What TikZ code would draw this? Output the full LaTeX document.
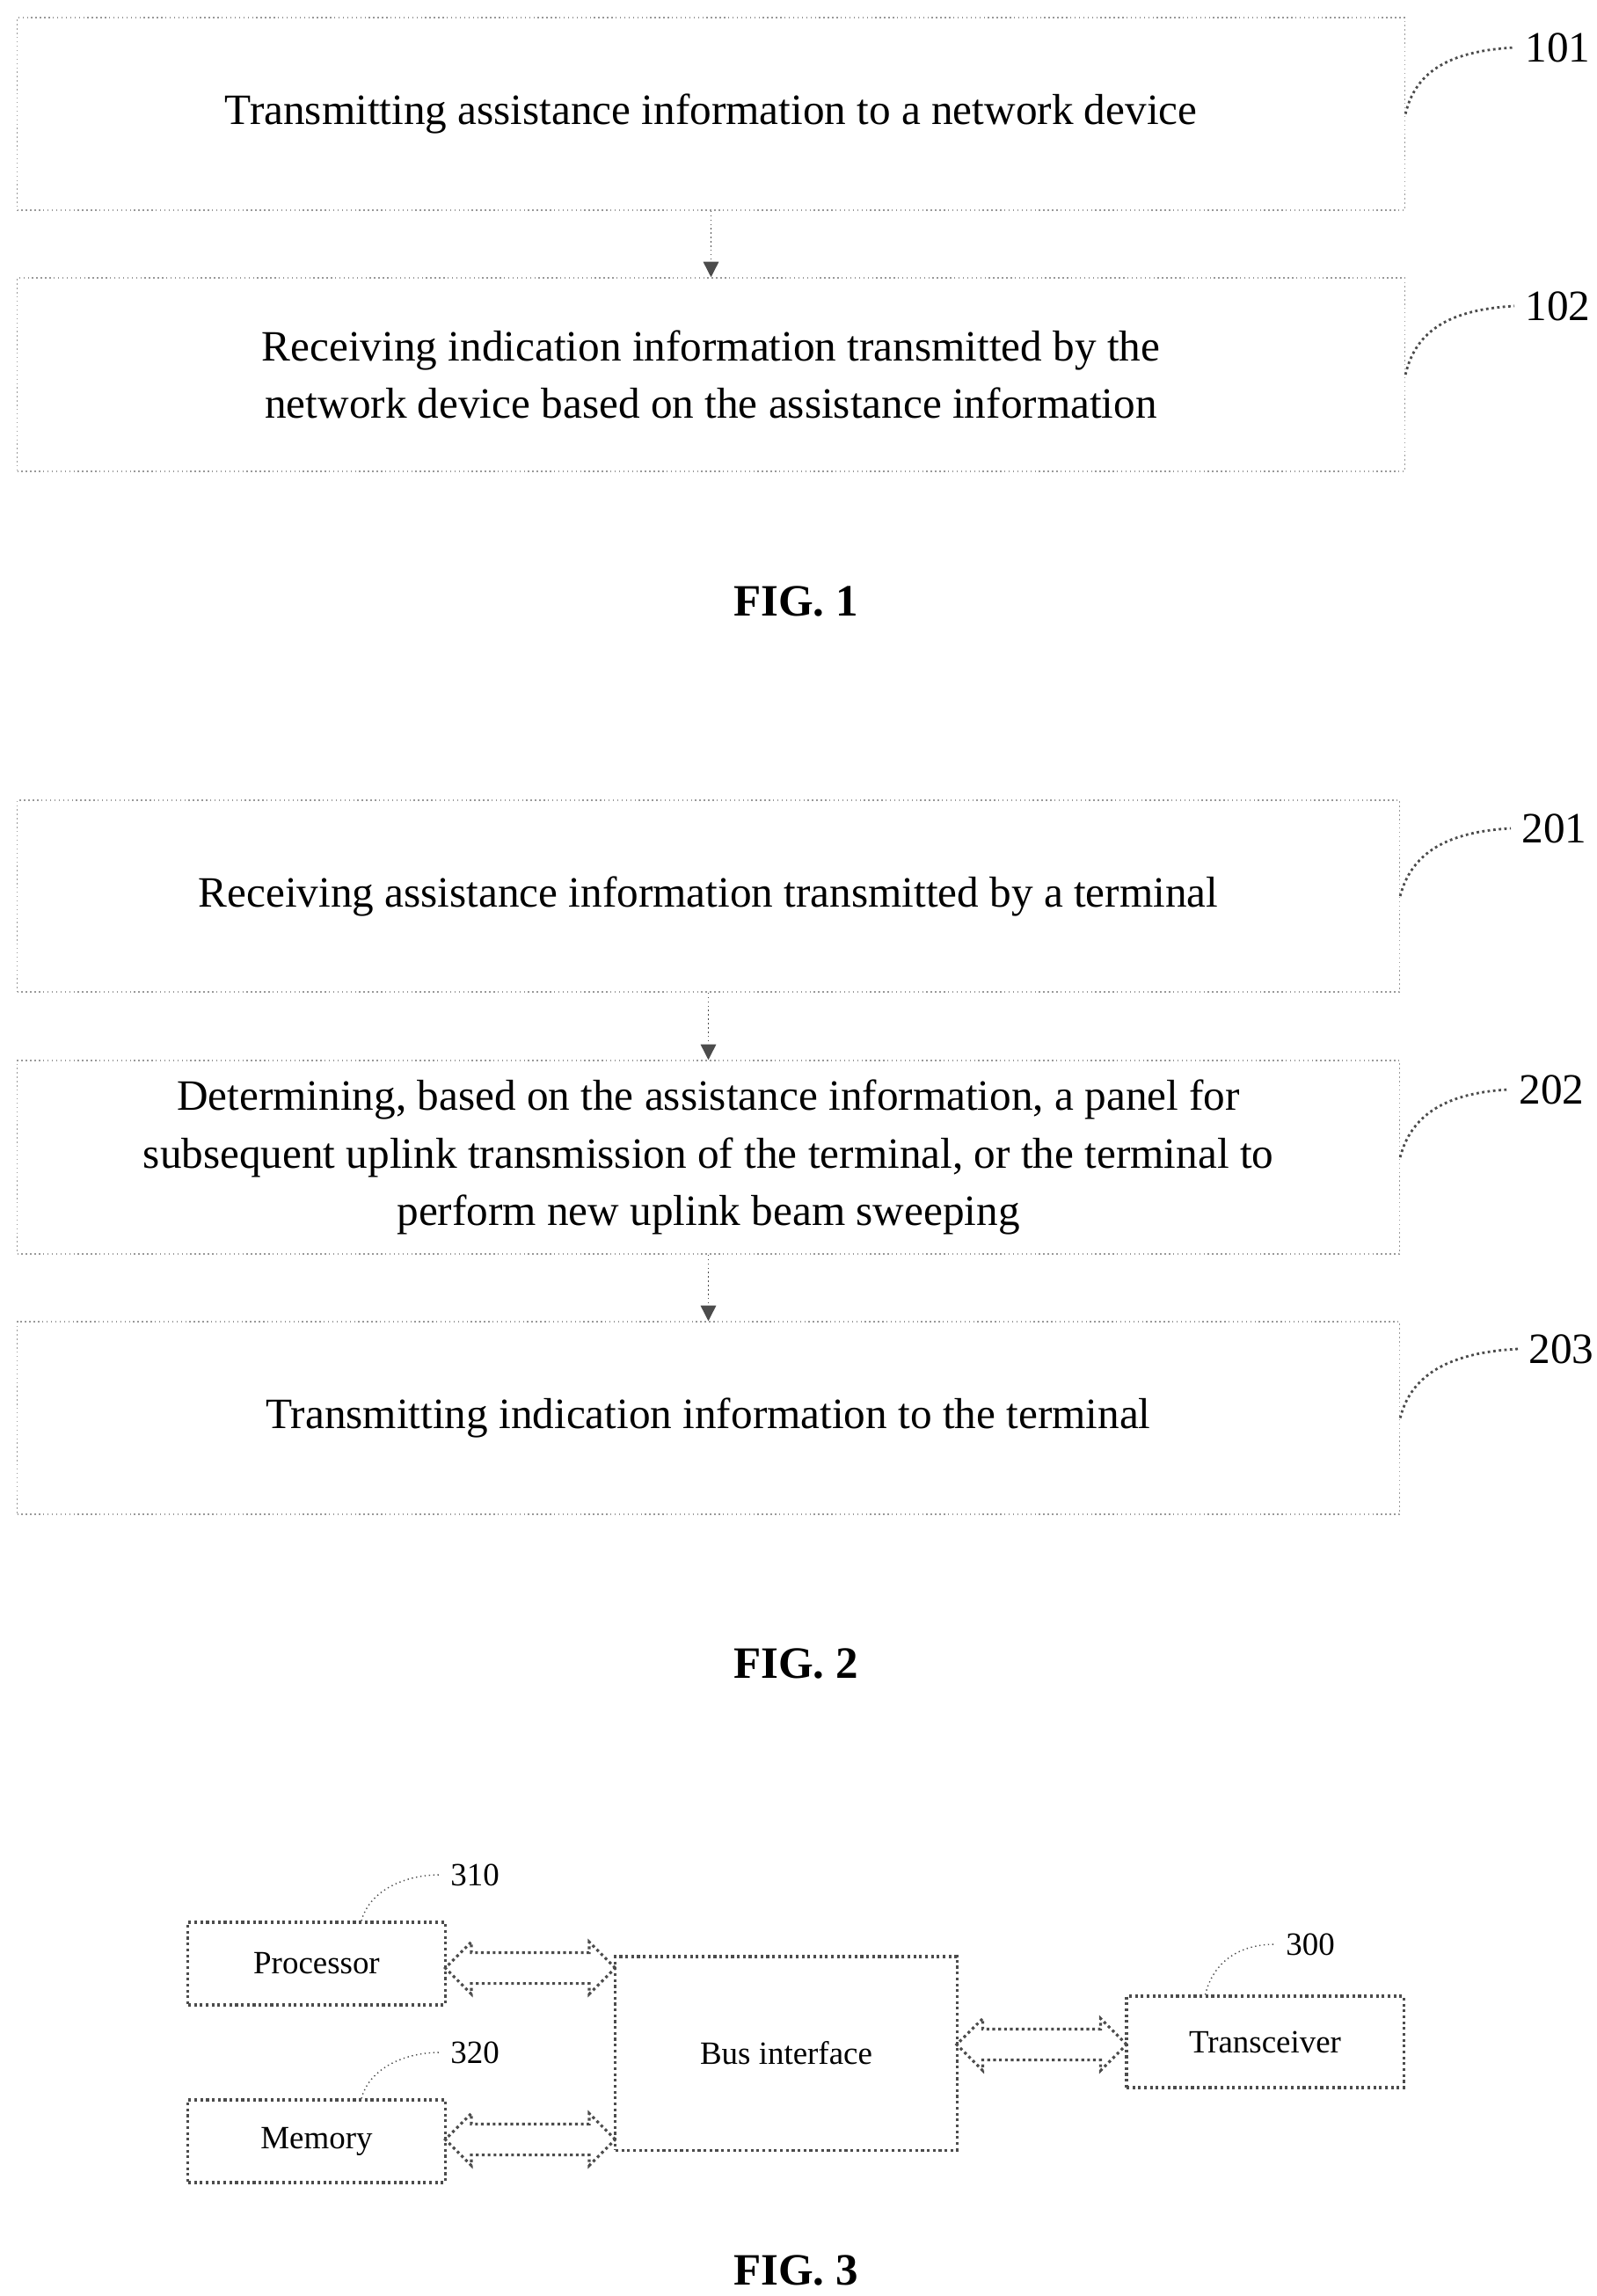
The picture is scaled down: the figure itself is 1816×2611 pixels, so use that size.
\documentclass[tikz,border=0pt]{standalone}
\usepackage{fontspec}
\setmainfont{Liberation Serif}
\usetikzlibrary{shapes.arrows, arrows.meta}

\begin{document}
\begin{tikzpicture}[x=0.01cm, y=-0.01cm,
    stepbox/.style={draw=gray!80, densely dotted, rectangle, inner sep=0pt, align=center,
        font=\fontsize{14}{18.5}\selectfont},
    part/.style={draw=black!70, densely dotted, line width=0.9pt, rectangle, inner sep=0pt,
        font=\fontsize{10.5}{12}\selectfont},
    flow/.style={-{Triangle[length=5pt,width=5pt]}, densely dotted, gray!60!black},
    lead/.style={densely dotted, gray!60!black, thick},
    tag/.style={font=\fontsize{14}{16}\selectfont, anchor=west},
    smalltag/.style={font=\fontsize{10.5}{12}\selectfont, anchor=west},
    caption/.style={font=\fontsize{14.5}{17}\selectfont\bfseries},
    bus/.style={double arrow, draw=black!70, densely dotted, line width=0.9pt,
        minimum height=1.93cm, inner xsep=0pt, inner ysep=0.16cm, text height=0pt, text depth=0pt,
        double arrow head extend=0.12cm}]
    \useasboundingbox (0,0) rectangle (1816,2611);

    % FIG. 1
    \node[stepbox, minimum width=15.77cm, minimum height=2.19cm] (s101) at (808.5,129.5)
        {Transmitting assistance information to a network device};
    \node[stepbox, minimum width=15.77cm, minimum height=2.20cm] (s102) at (808.5,426)
        {Receiving indication information transmitted by the\\network device based on the assistance information};
    \draw[flow] (s101) -- (s102);
    \node[tag] (t101) at (1722,54) {101};
    \node[tag] (t102) at (1722,348) {102};
    \draw[lead] (s101.east) .. controls (1610,80) and (1650,58) .. (t101.west);
    \draw[lead] (s102.east) .. controls (1610,375) and (1650,352) .. (t102.west);
    \node[caption] (f1) at (905,684) {FIG. 1};

    % FIG. 2
    \node[stepbox, minimum width=15.71cm, minimum height=2.18cm] (s201) at (805.5,1019)
        {Receiving assistance information transmitted by a terminal};
    \node[stepbox, minimum width=15.71cm, minimum height=2.20cm] (s202) at (805.5,1316)
        {Determining, based on the assistance information, a panel for\\subsequent uplink transmission of the terminal, or the terminal to\\perform new uplink beam sweeping};
    \node[stepbox, minimum width=15.71cm, minimum height=2.19cm] (s203) at (805.5,1612.5)
        {Transmitting indication information to the terminal};
    \draw[flow] (s201) -- (s202);
    \draw[flow] (s202) -- (s203);
    \node[tag] (t201) at (1718,942) {201};
    \node[tag] (t202) at (1715,1239) {202};
    \node[tag] (t203) at (1726,1534) {203};
    \draw[lead] (s201.east) .. controls (1605,970) and (1645,946) .. (t201.west);
    \draw[lead] (s202.east) .. controls (1605,1267) and (1645,1243) .. (t202.west);
    \draw[lead] (s203.east) .. controls (1605,1562) and (1650,1538) .. (t203.west);
    \node[caption] (f2) at (905,1892) {FIG. 2};

    % FIG. 3
    \node[part, minimum width=2.92cm, minimum height=0.94cm] (proc) at (360,2233) {Processor};
    \node[part, minimum width=2.92cm, minimum height=0.94cm] (mem) at (360,2435) {Memory};
    \node[part, minimum width=3.88cm, minimum height=2.20cm] (busif) at (894,2335) {Bus interface};
    \node[part, minimum width=3.15cm, minimum height=1.04cm] (trx) at (1438.5,2322) {Transceiver};
    \node[bus] (a1) at (603,2238) {};
    \node[bus] (a2) at (603,2433) {};
    \node[bus] (a3) at (1184.5,2325) {};
    \node[smalltag] (t310) at (500,2132) {310};
    \node[smalltag] (t320) at (500,2334) {320};
    \node[smalltag] (t300) at (1450,2211) {300};
    \draw[lead, thin] (proc.north) ++(51,0) coordinate (p1) .. controls (420,2150) and (460,2132) .. (t310.west);
    \draw[lead, thin] (mem.north) ++(51,0) coordinate (m1) .. controls (420,2352) and (460,2334) .. (t320.west);
    \draw[lead, thin] (trx.north) ++(-68,0) coordinate (x1) .. controls (1380,2230) and (1410,2211) .. (t300.west);
    \node[caption] (f3) at (905,2582) {FIG. 3};
\end{tikzpicture}
\end{document}
